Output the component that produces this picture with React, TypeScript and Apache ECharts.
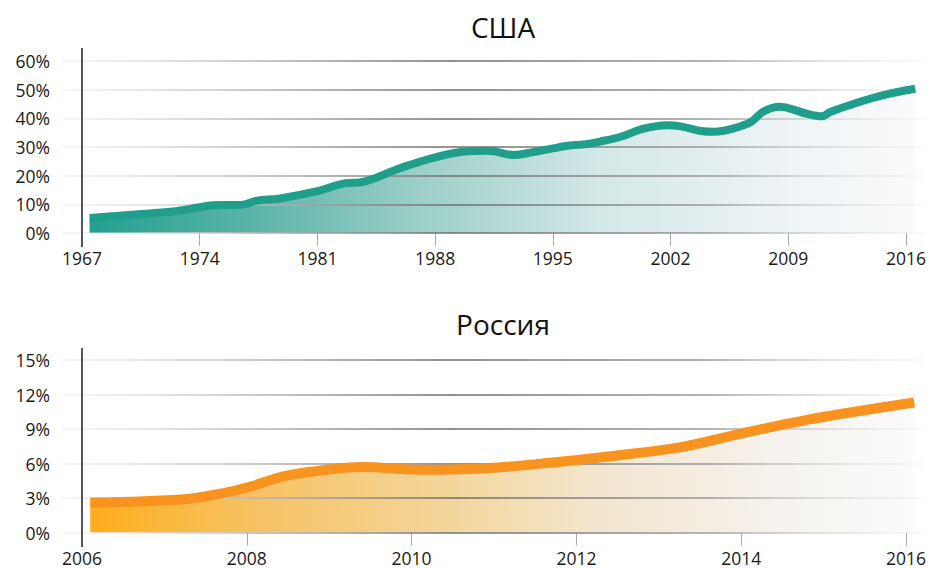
import React, { useEffect, useRef } from "react";
import * as echarts from "echarts";

// США — share, % (year, value)
const usaPoints: [number, number][] = [
  [1967.45, 5.2], [1970, 6.4], [1972.4, 7.5], [1973.9, 8.9], [1974.6, 9.6],
  [1976.6, 9.9], [1977.4, 11.3], [1978.7, 12.0], [1981, 14.6], [1982.7, 17.4],
  [1983.5, 17.6], [1985.9, 22.6], [1988, 26.4], [1989.9, 28.5], [1991, 28.7],
  [1991.5, 28.5], [1992.7, 27.2], [1993.8, 28.2], [1995, 29.5], [1996, 30.5],
  [1997, 31.0], [1997.8, 31.9], [1999, 33.5], [2000.4, 36.4], [2001.8, 37.6],
  [2002.6, 37.2], [2003.8, 35.6], [2004.6, 35.3], [2005.7, 36.4], [2006.8, 38.8],
  [2007.5, 42.3], [2008.5, 44.0], [2009.1, 43.4], [2010.1, 41.6], [2011, 40.7],
  [2011.5, 42.2], [2012.9, 45.1], [2014.6, 48.0], [2016.55, 50.3],
];

// Россия — share, % (year, value)
const russiaPoints: [number, number][] = [
  [2006.1, 2.6], [2007.25, 2.9], [2007.7, 3.4], [2008.05, 4.0], [2008.4, 4.8],
  [2008.8, 5.3], [2009.4, 5.7], [2010.1, 5.45], [2010.6, 5.5], [2011.05, 5.65],
  [2011.65, 6.05], [2012.5, 6.7], [2013.25, 7.4], [2014.0, 8.6], [2014.8, 9.8],
  [2016.1, 11.3],
];

const usaTicks = [1967, 1974, 1981, 1988, 1995, 2002, 2009, 2016];
const russiaTicks = [2006, 2008, 2010, 2012, 2014, 2016];
const usaTitle = "США";
const russiaTitle = "Россия";

const FONT = "'Open Sans', 'Noto Sans', sans-serif";

export default function App() {
  const ref = useRef<HTMLDivElement>(null);
  useEffect(() => {
    if (!ref.current) return;
    const chart = echarts.init(ref.current, undefined, { renderer: "svg" });

    const gridGrad = () =>
      new echarts.graphic.LinearGradient(
        62, 0, 925, 0,
        [
          { offset: 0, color: "rgba(225,225,225,0.4)" },
          { offset: 0.15, color: "#cfcfcf" },
          { offset: 0.45, color: "#6e6e6e" },
          { offset: 0.75, color: "#9a9a9a" },
          { offset: 1, color: "rgba(230,230,230,0.3)" },
        ],
        true
      );

    const tealFill = new echarts.graphic.LinearGradient(0, 0, 1, 0, [
      { offset: 0, color: "#22a08f" },
      { offset: 0.2, color: "#5cb4a9" },
      { offset: 0.4, color: "#9ccfc8" },
      { offset: 0.62, color: "#d4e8e8" },
      { offset: 0.85, color: "#eff4f6" },
      { offset: 1, color: "#f9fafb" },
    ]);
    const orangeFill = new echarts.graphic.LinearGradient(0, 0, 1, 0, [
      { offset: 0, color: "#fdae1e" },
      { offset: 0.2, color: "#f7c264" },
      { offset: 0.4, color: "#f4d392" },
      { offset: 0.62, color: "#f3e6d0" },
      { offset: 0.85, color: "#f6f3ef" },
      { offset: 1, color: "#fbfbfa" },
    ]);

    const xAxisBase = (min: number, max: number, ticks: number[], gridIndex: number) => ({
      type: "value" as const,
      gridIndex,
      min,
      max,
      axisLine: { show: false },
      splitLine: { show: false },
      axisTick: {
        show: true,
        length: 13,
        customValues: ticks,
        lineStyle: { color: "#aaaaaa", width: 1 },
      },
      axisLabel: {
        customValues: ticks,
        formatter: (v: number) => String(v),
        margin: 16,
        fontSize: 17.5,
        fontFamily: FONT,
        color: "#1a1a1a",
      },
    });

    const yAxisBase = (max: number, interval: number, gridIndex: number) => ({
      type: "value" as const,
      gridIndex,
      min: 0,
      max,
      interval,
      z: 2,
      axisLine: { show: false },
      axisTick: { show: false },
      splitLine: { show: true, lineStyle: { color: gridGrad(), width: 1.5 } },
      axisLabel: {
        formatter: "{value}%",
        margin: 12,
        fontSize: 17.5,
        fontFamily: FONT,
        color: "#1a1a1a",
      },
    });

    chart.setOption({
      animation: false,
      backgroundColor: "#ffffff",
      grid: [
        { left: 62, width: 863, top: 61, height: 172 },
        { left: 62, width: 863, top: 360, height: 172.5 },
      ],
      xAxis: [
        xAxisBase(1967 - 20 / 16.816, 2016 + 19 / 16.816, usaTicks, 0),
        xAxisBase(2006 - 20 / 82.4, 2016 + 19 / 82.4, russiaTicks, 1),
      ],
      yAxis: [yAxisBase(60, 10, 0), yAxisBase(15, 3, 1)],
      series: [
        {
          type: "line",
          xAxisIndex: 0,
          yAxisIndex: 0,
          data: usaPoints,
          smooth: 0.35,
          showSymbol: false,
          z: 1,
          lineStyle: { width: 0, opacity: 0 },
          areaStyle: { color: tealFill, opacity: 1 },
        },
        {
          type: "line",
          xAxisIndex: 0,
          yAxisIndex: 0,
          data: usaPoints,
          smooth: 0.35,
          showSymbol: false,
          z: 3,
          lineStyle: { width: 8, color: "#1f9e8c", cap: "butt", join: "round" },
        },
        {
          type: "line",
          xAxisIndex: 1,
          yAxisIndex: 1,
          data: russiaPoints,
          smooth: 0.35,
          showSymbol: false,
          z: 1,
          lineStyle: { width: 0, opacity: 0 },
          areaStyle: { color: orangeFill, opacity: 1 },
        },
        {
          type: "line",
          xAxisIndex: 1,
          yAxisIndex: 1,
          data: russiaPoints,
          smooth: 0.35,
          showSymbol: false,
          z: 3,
          lineStyle: { width: 10, color: "#f7931e", cap: "butt", join: "round" },
        },
      ],
      graphic: [
        {
          type: "line",
          shape: { x1: 82, y1: 48, x2: 82, y2: 247 },
          style: { stroke: "#555555", lineWidth: 2 },
          z: 10,
        },
        {
          type: "line",
          shape: { x1: 82, y1: 348, x2: 82, y2: 547 },
          style: { stroke: "#555555", lineWidth: 2 },
          z: 10,
        },
        {
          type: "text",
          x: 503,
          y: 27,
          style: {
            text: usaTitle,
            align: "center",
            verticalAlign: "middle",
            fontSize: 28,
            fontFamily: FONT,
            fill: "#111111",
          },
        },
        {
          type: "text",
          x: 503,
          y: 324,
          style: {
            text: russiaTitle,
            align: "center",
            verticalAlign: "middle",
            fontSize: 28,
            fontFamily: FONT,
            fill: "#111111",
          },
        },
      ],
    });
    return () => chart.dispose();
  }, []);
  return (
    <div
      ref={ref}
      style={{ position: "absolute", left: 0, top: 0, width: 929, height: 568 }}
    />
  );
}
